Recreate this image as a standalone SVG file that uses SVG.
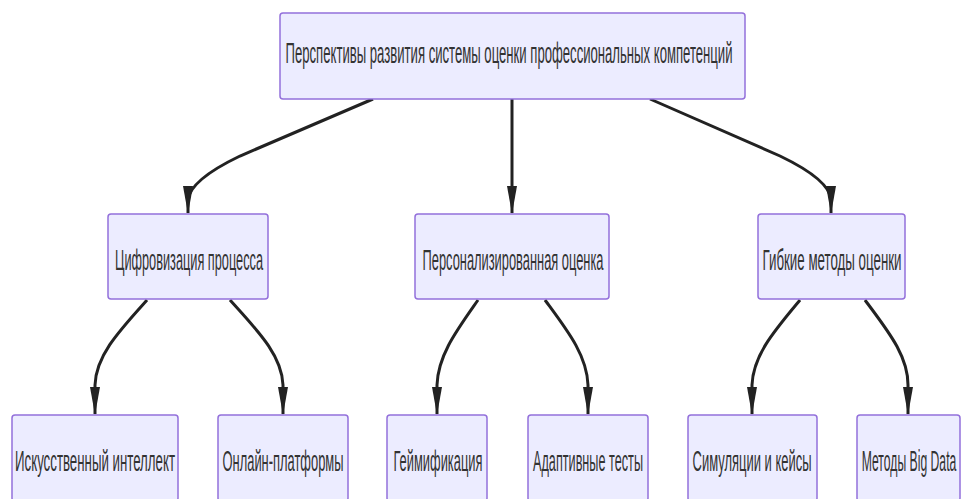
<svg xmlns="http://www.w3.org/2000/svg" width="963" height="499" viewBox="0 0 963 499">
<style>
.node rect{fill:#ECECFF;stroke:#9370DB;stroke-width:1.5}
.node text{font-family:"Liberation Sans",Arial,sans-serif;font-size:29px;fill:#333;text-anchor:middle}
.edge{fill:none;stroke:#222;stroke-width:3}
</style>
<defs>
<marker id="arr" markerUnits="userSpaceOnUse" viewBox="0 0 28 10" refX="27" refY="5" markerWidth="28" markerHeight="10" orient="auto">
<path d="M0,0 L28,5 L0,10 z" fill="#222"/>
</marker>
</defs>
<rect width="963" height="499" fill="#fff"/>
<g id="connectors">
<path class="edge" marker-end="url(#arr)" d="M373,99 L240,156 Q190,180 188,200 L188,213"/>
<path class="edge" marker-end="url(#arr)" d="M512,99 L512,213"/>
<path class="edge" marker-end="url(#arr)" d="M650,99 L780,156 Q830,180 831,200 L831,213"/>
<path class="edge" marker-end="url(#arr)" d="M147,300 C120,330 96,355 95,385 L95,414"/>
<path class="edge" marker-end="url(#arr)" d="M230,300 C257,330 282,355 283,385 L283,414"/>
<path class="edge" marker-end="url(#arr)" d="M478,300 C457,330 438,355 437,385 L437,414"/>
<path class="edge" marker-end="url(#arr)" d="M545,300 C567,330 587,355 588,385 L588,414"/>
<path class="edge" marker-end="url(#arr)" d="M800,300 C775,330 753,355 752,385 L752,414"/>
<path class="edge" marker-end="url(#arr)" d="M865,300 C887,330 908,355 908,385 L908,414"/>
</g>
<g id="root" class="node"><rect x="280" y="13" width="465" height="86" rx="3"/><text transform="translate(509,63) scale(0.5,1)" textLength="894" lengthAdjust="spacingAndGlyphs">Перспективы развития системы оценки профессиональных компетенций</text></g>
<g id="digital" class="node"><rect x="108" y="214" width="160" height="85" rx="3"/><text transform="translate(189,270) scale(0.5,1)" textLength="296" lengthAdjust="spacingAndGlyphs">Цифровизация процесса</text></g>
<g id="personal" class="node"><rect x="415" y="214" width="194" height="85" rx="3"/><text transform="translate(513,270) scale(0.5,1)" textLength="362" lengthAdjust="spacingAndGlyphs">Персонализированная оценка</text></g>
<g id="flexible" class="node"><rect x="758" y="214" width="147" height="85" rx="3"/><text transform="translate(832,270) scale(0.5,1)" textLength="278" lengthAdjust="spacingAndGlyphs">Гибкие методы оценки</text></g>
<g id="ai" class="node"><rect x="12" y="415" width="166" height="86" rx="3"/><text transform="translate(95,471) scale(0.5,1)" textLength="320" lengthAdjust="spacingAndGlyphs">Искусственный интеллект</text></g>
<g id="online" class="node"><rect x="218" y="415" width="130" height="86" rx="3"/><text transform="translate(283,471) scale(0.5,1)" textLength="242" lengthAdjust="spacingAndGlyphs">Онлайн-платформы</text></g>
<g id="gamification" class="node"><rect x="387" y="415" width="100" height="86" rx="3"/><text transform="translate(438,471) scale(0.5,1)" textLength="178" lengthAdjust="spacingAndGlyphs">Геймификация</text></g>
<g id="adaptive" class="node"><rect x="528" y="415" width="120" height="86" rx="3"/><text transform="translate(588,471) scale(0.5,1)" textLength="220" lengthAdjust="spacingAndGlyphs">Адаптивные тесты</text></g>
<g id="simulations" class="node"><rect x="688" y="415" width="129" height="86" rx="3"/><text transform="translate(752,471) scale(0.5,1)" textLength="238" lengthAdjust="spacingAndGlyphs">Симуляции и кейсы</text></g>
<g id="bigdata" class="node"><rect x="857" y="415" width="103" height="86" rx="3"/><text transform="translate(909,471) scale(0.44,1)" textLength="215" lengthAdjust="spacingAndGlyphs">Методы Big Data</text></g>
</svg>
